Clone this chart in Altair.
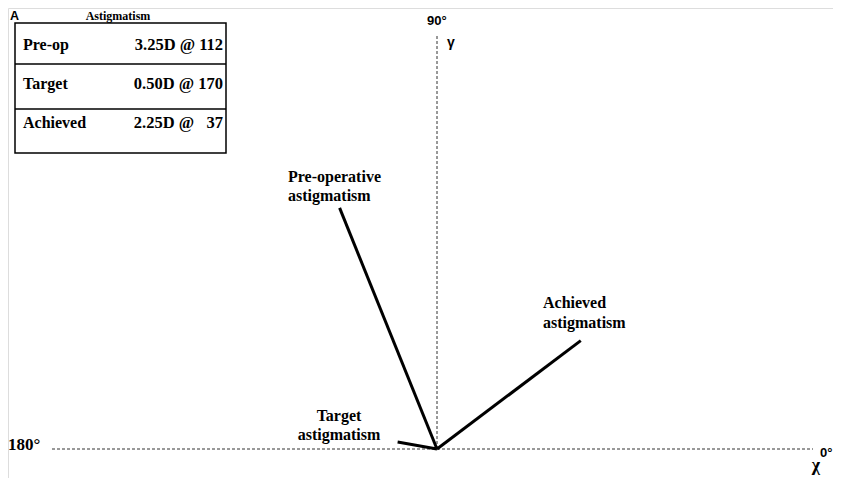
import math
import altair as alt
import pandas as pd

# ---- data -------------------------------------------------------------
row_labels = ["Pre-op", "Target", "Achieved"]
magnitudes_D = [3.25, 0.50, 2.25]
axes_deg = [112, 170, 37]
table_values = ["3.25D @ 112", "0.50D @ 170", "2.25D @\u00a0\u200737"]
vector_names = ["Pre-operative", "Target", "Achieved"]

# ---- layout (pixels in plot area, data scale) ---------------------------
W, H = 825, 470
PX_PER_D = 80.0
ORIGIN_PX = (429, 441)
XDOM = [-ORIGIN_PX[0] / PX_PER_D, (W - ORIGIN_PX[0]) / PX_PER_D]
YDOM = [-(H - ORIGIN_PX[1]) / PX_PER_D, ORIGIN_PX[1] / PX_PER_D]
AX_LEFT, AX_RIGHT, AX_TOP = -4.8125, 4.70, 5.175

SERIF = "Liberation Serif"
SANS = "Liberation Sans"

xs = alt.Scale(domain=XDOM, nice=False, zero=False)
ys = alt.Scale(domain=YDOM, nice=False, zero=False)

vec = pd.DataFrame({
    "name": vector_names,
    "mag": magnitudes_D,
    "axis": axes_deg,
})
vec["x0"] = 0.0
vec["y0"] = 0.0
vec["x1"] = [m * math.cos(math.radians(a)) for m, a in zip(magnitudes_D, axes_deg)]
vec["y1"] = [m * math.sin(math.radians(a)) for m, a in zip(magnitudes_D, axes_deg)]

one = pd.DataFrame({"k": [0]})

# dashed reference axes
axes_df = pd.DataFrame({
    "xa": [AX_LEFT, 0.0], "xb": [AX_RIGHT, 0.0],
    "ya": [0.0, 0.0], "yb": [0.0, AX_TOP],
})
axes_layer = alt.Chart(axes_df).mark_rule(
    color="#333333", strokeWidth=1, strokeDash=[3, 2]
).encode(
    x=alt.X("xa:Q", scale=xs, axis=None),
    x2="xb:Q",
    y=alt.Y("ya:Q", scale=ys, axis=None),
    y2="yb:Q",
)

vectors = alt.Chart(vec).mark_rule(color="black", strokeWidth=3).encode(
    x=alt.X("x0:Q", scale=xs, axis=None),
    x2="x1:Q",
    y=alt.Y("y0:Q", scale=ys, axis=None),
    y2="y1:Q",
)


def text(s, x, y, font=SERIF, size=16, weight="bold", align="left", lh=19, style="normal"):
    return alt.Chart(one).mark_text(
        text=s, font=font, fontSize=size, fontWeight=weight, align=align,
        baseline="alphabetic", lineHeight=lh, color="black", fontStyle=style,
    ).encode(x=alt.value(x), y=alt.value(y))


labels = [
    text(["Pre-operative", "astigmatism"], 280, 174),
    text(["Achieved", "astigmatism"], 535, 300, lh=20),
    text(["Target", "astigmatism"], 331, 413, align="center"),
    text("180°", 0, 442, size=17),
    text("0°", 812, 449, font=SANS, size=13),
    text("χ", 808, 463, font=SERIF, size=18, align="center"),
    text("90°", 419, 17, font=SANS, size=13),
    text("γ", 439, 39, font=SANS, size=14),
    text("A", 2, 12, font=SANS, size=12.5),
    text("Astigmatism", 110, 12, size=12, align="center"),
]

# table
TOP, BOT = 15, 145
box = alt.Chart(one).mark_rect(fill="white", stroke="black", strokeWidth=1.5).encode(
    x=alt.value(7), x2=alt.value(218), y=alt.value(TOP), y2=alt.value(BOT)
)
dividers = alt.Chart(pd.DataFrame({"py": [56, 101]})).mark_rule(
    color="black", strokeWidth=1.5
).encode(x=alt.value(7), x2=alt.value(218), y=alt.Y("py:Q", scale=None))

tab = pd.DataFrame({"label": row_labels, "value": table_values, "i": [0, 1, 2]})
tab_base = alt.Chart(tab).transform_calculate(py="42 + datum.i * 39")
tab_labels = tab_base.mark_text(
    font=SERIF, fontSize=16, fontWeight="bold", align="left", baseline="alphabetic", color="black"
).encode(x=alt.value(15), y=alt.Y("py:Q", scale=None), text="label:N")
tab_values = tab_base.mark_text(
    font=SERIF, fontSize=16.5, fontWeight="bold", align="right", baseline="alphabetic", color="black"
).encode(x=alt.value(215), y=alt.Y("py:Q", scale=None), text="value:N")

chart = alt.layer(
    axes_layer, vectors, *labels, box, dividers, tab_labels, tab_values
).properties(
    width=W, height=H,
    autosize=alt.AutoSizeParams(type="none"),
    padding=0,
).configure_view(stroke=None).configure(background="white")

chart.save("out.html", embed_options={"renderer": "svg", "actions": False})
